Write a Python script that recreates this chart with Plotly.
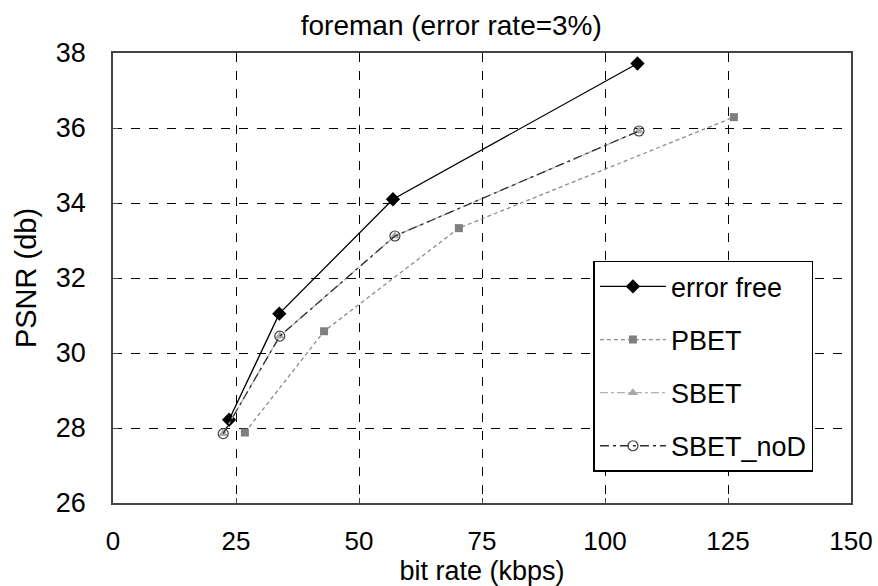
import plotly.graph_objects as go

bitrate_ef = [23.6, 33.8, 56.9, 106.6]
psnr_ef = [28.22, 31.05, 34.1, 37.72]

bitrate_pbet = [26.8, 42.9, 70.3, 126.2]
psnr_pbet = [27.88, 30.58, 33.33, 36.29]

bitrate_sbet = [22.4, 33.9, 57.3, 106.9]
psnr_sbet = [27.85, 30.45, 33.12, 35.92]

bitrate_nod = [22.4, 33.9, 57.3, 106.9]
psnr_nod = [27.85, 30.45, 33.12, 35.92]

FONT = "Liberation Sans, Arial, sans-serif"

fig = go.Figure()
fig.add_trace(go.Scatter(x=bitrate_ef, y=psnr_ef, name="error free", mode="lines+markers",
                         line=dict(color="black", width=1.3),
                         marker=dict(symbol="diamond", size=11, color="black"),
                         legendgroup="a"))
fig.add_trace(go.Scatter(x=bitrate_pbet, y=psnr_pbet, name="PBET", mode="lines+markers",
                         line=dict(color="#8c8c8c", width=1.3, dash="4px,3px"),
                         marker=dict(symbol="square", size=8, color="#7f7f7f"),
                         legendgroup="b"))
fig.add_trace(go.Scatter(x=bitrate_sbet, y=psnr_sbet, name="SBET", mode="lines+markers",
                         line=dict(color="#b0b0b0", width=1.3, dash="8px,3px,3px,3px"),
                         marker=dict(symbol="triangle-up", size=9, color="#a8a8a8"),
                         legendgroup="c"))
fig.add_trace(go.Scatter(x=bitrate_nod, y=psnr_nod, name="SBET_noD", mode="lines+markers",
                         line=dict(color="#303030", width=1.3, dash="9px,4px,3px,4px"),
                         marker=dict(symbol="circle", size=10, color="rgba(255,255,255,0)",
                                     line=dict(color="#404040", width=1.2)),
                         legendgroup="d"))

axis_common = dict(showline=True, mirror=True, linecolor="#444", linewidth=1.5,
                   showgrid=True, gridcolor="black", gridwidth=1.3, griddash="dash",
                   zeroline=False, ticks="inside", ticklen=5, tickcolor="#444",
                   automargin=False)

fig.update_xaxes(range=[0, 150], tickvals=[0, 25, 50, 75, 100, 125, 150],
                 tickfont=dict(family=FONT, size=26, color="black"),
                 title=dict(text="bit rate (kbps)", font=dict(family=FONT, size=27, color="black"), standoff=6),
                 ticklabelstandoff=14, **axis_common)
fig.update_yaxes(range=[26, 38], tickvals=[26, 28, 30, 32, 34, 36, 38],
                 tickfont=dict(family=FONT, size=27, color="black"),
                 title=dict(text="PSNR (db)", font=dict(family=FONT, size=29, color="black"), standoff=11),
                 ticklabelstandoff=20, **axis_common)

fig.update_layout(
    width=878, height=586,
    margin=dict(l=113, r=27, t=53, b=83),
    paper_bgcolor="white", plot_bgcolor="white",
    title=dict(text="foreman (error rate=3%)", x=0.514, xref="container", y=0.957, yref="container",
               yanchor="middle", xanchor="center", font=dict(family=FONT, size=28, color="black")),
    legend=dict(x=0.651, y=0.538, xanchor="left", yanchor="top",
                bgcolor="white", bordercolor="black", borderwidth=1.5,
                font=dict(family=FONT, size=27, color="black"),
                traceorder="grouped", tracegroupgap=15, itemwidth=66),
    showlegend=True,
)

fig.write_html("out.html")
